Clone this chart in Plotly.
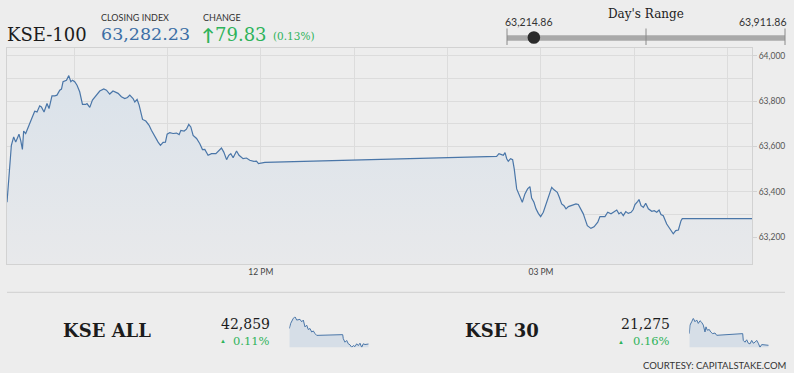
import pandas as pd
import plotly.graph_objects as go

SESSION_DATE = "2023-06-13"

# ---------------- data ----------------
index_name = "KSE-100"
closing_index = 63282.23
change_points = 79.83
change_pct = 0.13
day_low = 63214.86
day_high = 63911.86

kse100_minutes_after_9am = [
    16.9, 19.7, 21.2, 22.5, 24.6, 25.7, 26.8, 27.6, 28.9, 30.4,
    32.6, 34.7, 36.2, 37.9, 39.0, 40.7, 42.6, 43.9, 45.8, 47.6,
    49.0, 50.8, 51.9, 52.9, 55.1, 56.6, 57.9, 59.0, 60.4, 61.9,
    63.6, 65.4, 67.5, 68.3, 70.1, 71.8, 74.4, 76.5, 79.1, 80.8,
    82.9, 85.0, 88.3, 90.4, 92.6, 94.3, 95.8, 97.9, 99.0, 100.5,
    101.8, 104.0, 106.1, 108.2, 109.7, 111.9, 114.0, 115.5, 117.2, 118.7,
    119.8, 121.5, 123.6, 125.8, 127.5, 128.6, 130.7, 132.2, 133.7, 135.0,
    136.5, 138.7, 140.8, 142.5, 144.0, 146.1, 148.3, 151.1, 152.6, 154.7,
    156.2, 158.0, 159.4, 160.7, 162.2, 164.4, 166.0, 168.6, 170.8, 172.9,
    175.5, 177.2, 178.5, 180.5, 182.6,
    331.5, 333.0, 334.7, 335.8, 336.9, 338.0, 339.0, 340.5, 341.8, 342.8,
    344.4, 346.0, 348.0, 349.7, 351.4, 352.9, 354.0, 355.5, 356.8, 358.3,
    359.8, 361.5, 363.7, 365.3, 366.9, 368.4, 370.5, 371.8, 373.3, 374.8,
    376.1, 377.6, 379.7, 382.5, 384.0, 385.5, 387.2, 388.3, 389.8, 392.1,
    394.1, 396.5, 397.9, 401.1, 402.9, 405.0, 406.5, 408.7, 410.1, 411.4,
    412.9, 414.5, 416.1, 417.9, 419.3, 420.4, 422.2, 423.0, 424.3, 425.8,
    427.3, 429.0, 431.2, 432.8, 434.4, 435.9, 437.1, 438.6, 440.8, 442.9,
    445.0, 446.6, 448.3, 450.0, 450.8, 495.6,
]
kse100_values = [
    63354, 63605, 63642, 63619, 63654, 63627, 63587, 63668, 63657, 63686,
    63720, 63755, 63752, 63779, 63774, 63752, 63789, 63767, 63823, 63823,
    63826, 63848, 63853, 63885, 63892, 63912, 63885, 63892, 63885, 63870,
    63841, 63785, 63785, 63789, 63772, 63804, 63826, 63844, 63853, 63848,
    63831, 63844, 63834, 63819, 63811, 63816, 63826, 63811, 63796, 63807,
    63782, 63719, 63712, 63693, 63671, 63642, 63619, 63605, 63618, 63619,
    63654, 63661, 63657, 63659, 63652, 63671, 63668, 63676, 63697, 63686,
    63649, 63635, 63612, 63586, 63587, 63561, 63568, 63568, 63580, 63593,
    63575, 63542, 63561, 63568, 63550, 63580, 63561, 63546, 63549, 63539,
    63534, 63535, 63524, 63528, 63530,
    63556, 63568, 63564, 63561, 63573, 63546, 63535, 63546, 63542, 63502,
    63413, 63388, 63354, 63391, 63413, 63423, 63373, 63354, 63325, 63305,
    63291, 63310, 63354, 63384, 63420, 63409, 63398, 63376, 63347, 63339,
    63325, 63335, 63339, 63347, 63344, 63325, 63303, 63281, 63251, 63239,
    63246, 63266, 63291, 63291, 63310, 63303, 63310, 63320, 63303, 63310,
    63295, 63313, 63305, 63310, 63322, 63344, 63358, 63366, 63339, 63332,
    63350, 63325, 63314, 63317, 63310, 63320, 63300, 63295, 63258, 63236,
    63215, 63229, 63232, 63273, 63282, 63282,
]

y_tick_step = 200
y_grid_step = 100
x_tick_hours = ["12:00", "15:00"]
x_tick_labels = ["12 PM", "03 PM"]

kse_all_name = "KSE ALL"
kse_all_last = 42859
kse_all_pct = 0.11
kse_all_minutes = [16.7, 25.1, 40.8, 51.0, 61.3, 81.2, 91.5, 101.1, 111.4, 121.6,
                   131.3, 141.5, 151.8, 161.4, 171.7, 181.9, 338.7, 342.3, 352.6, 362.8,
                   372.5, 382.7, 393.0, 402.6, 412.9, 423.1, 432.8, 443.0, 453.3, 462.9,
                   473.2, 483.4, 495.5]
kse_all_values = [43092, 43170, 43247, 43271, 43220, 43231, 43194, 43220, 43117, 43143,
                  43077, 43093, 43040, 43056, 43016, 42989, 43000, 42939, 42886, 42912,
                  42862, 42846, 42809, 42835, 42820, 42862, 42835, 42871, 42809, 42862,
                  42851, 42859, 42859]

kse30_name = "KSE 30"
kse30_last = 21275
kse30_pct = 0.16
kse30_minutes = [16.7, 20.9, 31.2, 40.8, 51.1, 61.3, 71.0, 81.2, 91.5, 101.1,
                 111.4, 117.4, 125.2, 137.3, 145.7, 157.8, 171.7, 181.9, 338.7, 342.3,
                 352.6, 362.8, 372.5, 382.7, 393.0, 402.6, 412.9, 423.1, 432.8, 443.0,
                 453.3, 462.9, 473.2, 495.5]
kse30_values = [21387, 21469, 21501, 21534, 21501, 21518, 21485, 21511, 21495, 21469,
                21403, 21452, 21420, 21426, 21403, 21387, 21393, 21371, 21387, 21322,
                21305, 21328, 21295, 21289, 21322, 21295, 21305, 21322, 21295, 21256,
                21282, 21279, 21282, 21275]

courtesy = "COURTESY: CAPITALSTAKE.COM"

# ---------------- helpers ----------------
W, H = 794, 373
base = pd.Timestamp(f"{SESSION_DATE} 09:00")


def to_times(minutes):
    return base + pd.to_timedelta(minutes, unit="min")


def px(x):
    return x / W


def py(y):
    return 1 - y / H


BG = "#ededed"
GRID = "#dcdcdc"
AXLINE = "#d2d2d2"
LINE = "#4a76a8"
GREEN = "#2eb35a"
SERIF = "DejaVu Serif"
SANS = "Lato"

fig = go.Figure()

# main chart
fig.add_trace(go.Scatter(
    x=to_times(kse100_minutes_after_9am), y=kse100_values,
    mode="lines", line=dict(color=LINE, width=1.2),
    fill="tozeroy",
    fillgradient=dict(type="vertical",
                      colorscale=[[0, "#e8e9eb"], [1, "#dae2ea"]],
                      start=63082, stop=max(kse100_values)),
    hoverinfo="skip", showlegend=False,
    xaxis="x", yaxis="y",
))

# sparklines
for vals, mins, ax in ((kse_all_values, kse_all_minutes, "2"), (kse30_values, kse30_minutes, "3")):
    fig.add_trace(go.Scatter(
        x=to_times(mins), y=vals, mode="lines",
        line=dict(color=LINE, width=1), fill="tozeroy", fillcolor="#d6dee7",
        hoverinfo="skip", showlegend=False, xaxis="x" + ax, yaxis="y" + ax,
    ))

main_x_domain = [px(7), px(752)]
main_y_domain = [py(264), py(47.5)]

fig.update_layout(
    width=W, height=H,
    margin=dict(l=0, r=0, t=0, b=0),
    paper_bgcolor=BG, plot_bgcolor=BG,
    xaxis=dict(
        domain=main_x_domain, type="date",
        tickmode="array",
        tickvals=[pd.Timestamp(f"{SESSION_DATE} {h}") for h in x_tick_hours],
        ticktext=x_tick_labels,
        showgrid=True, gridcolor=GRID, gridwidth=1,
        minor=dict(dtick=3600000, tick0=f"{SESSION_DATE} 10:00", showgrid=True,
                   gridcolor=GRID, gridwidth=1),
        showline=True, linecolor=AXLINE, linewidth=1, mirror=True,
        ticks="", tickfont=dict(family=SANS, size=8.5, color="#444"),
        zeroline=False, automargin=False, fixedrange=True,
    ),
    yaxis=dict(
        domain=main_y_domain, side="right",
        range=[63082, 64036],
        tick0=0, dtick=y_tick_step, tickformat=",",
        showgrid=True, gridcolor=GRID, gridwidth=1,
        minor=dict(dtick=y_grid_step, tick0=0, showgrid=True, gridcolor=GRID, gridwidth=1),
        showline=True, linecolor=AXLINE, linewidth=1, mirror=True,
        ticks="outside", ticklen=4, tickcolor=AXLINE,
        tickfont=dict(family=SANS, size=8.5, color="#555"),
        zeroline=False, automargin=False, fixedrange=True,
    ),
    xaxis2=dict(domain=[px(289.3), px(368.7)], visible=False, anchor="y2"),
    yaxis2=dict(domain=[py(347.3), py(316.7)], visible=False, anchor="x2",
                range=[min(kse_all_values), max(kse_all_values)]),
    xaxis3=dict(domain=[px(689.3), px(768.7)], visible=False, anchor="y3"),
    yaxis3=dict(domain=[py(347.3), py(318.3)], visible=False, anchor="x3",
                range=[min(kse30_values), max(kse30_values)]),
)

ann = []


def text(x, y, s, size, color, family=SANS, xanchor="left", bold=False):
    ann.append(dict(
        x=px(x), y=py(y), xref="paper", yref="paper", text=s, showarrow=False,
        xanchor=xanchor, yanchor="middle", borderpad=0, borderwidth=0,
        font=dict(family=family, size=size, color=color, weight="bold" if bold else "normal"),
    ))


# header
text(7, 34.5, index_name, 18, "#1c1c1c", SERIF)
text(101, 17.5, "CLOSING INDEX", 9, "#333", SANS)
text(101, 34.5, f"{closing_index:,.2f}", 17.5, "#3b6ea5", SERIF)
text(203, 17.5, "CHANGE", 9, "#333", SANS)
text(202, 34.5, "\u2191", 17, GREEN, SANS, bold=True)
text(215, 34.5, f"{change_points:.2f}", 18, GREEN, SERIF)
text(273, 36, f"({change_pct:.2f}%)", 10.5, GREEN, SERIF)

# day's range
text(646, 13.5, "Day's Range", 12, "#222", SERIF, xanchor="center")
text(505, 22, f"{day_low:,.2f}", 10.5, "#333", SANS)
text(787, 22, f"{day_high:,.2f}", 10.5, "#333", SANS, xanchor="right")

# bottom panels
text(63, 330.5, kse_all_name, 18, "#1c1c1c", SERIF, bold=True)
text(270, 324, f"{kse_all_last:,}", 14, "#1c1c1c", SERIF, xanchor="right")
text(223, 340.5, "\u25B2", 6, GREEN, SANS, xanchor="center")
text(270, 340.5, f"{kse_all_pct:.2f}%", 11.5, GREEN, SERIF, xanchor="right")

text(465, 330.5, kse30_name, 18, "#1c1c1c", SERIF, bold=True)
text(670, 324, f"{kse30_last:,}", 14, "#1c1c1c", SERIF, xanchor="right")
text(621, 341, "\u25B2", 6, GREEN, SANS, xanchor="center")
text(670, 340.5, f"{kse30_pct:.2f}%", 11.5, GREEN, SERIF, xanchor="right")

text(786, 365, courtesy, 9.5, "#333", SANS, xanchor="right")

fig.update_layout(annotations=ann)

# slider & separators
bar_x0, bar_x1 = 507, 785
frac = (closing_index - day_low) / (day_high - day_low)
knob_x = bar_x0 + frac * (bar_x1 - bar_x0)
shapes = [
    dict(type="rect", xref="paper", yref="paper", x0=px(bar_x0), x1=px(bar_x1),
         y0=py(40.8), y1=py(35.2), fillcolor="#a9a9a9", line=dict(width=0)),
]
for xv in (bar_x0, (bar_x0 + bar_x1) / 2, bar_x1):
    shapes.append(dict(type="line", xref="paper", yref="paper", x0=px(xv), x1=px(xv),
                       y0=py(45), y1=py(28.5), line=dict(color="#8a8a8a", width=1)))
shapes.append(dict(type="circle", xref="paper", yref="paper",
                   x0=px(knob_x - 6.3), x1=px(knob_x + 6.3), y0=py(43.8), y1=py(31.2),
                   fillcolor="#2b2b2b", line=dict(width=0)))
shapes.append(dict(type="line", xref="paper", yref="paper", x0=px(7), x1=px(785),
                   y0=py(292.3), y1=py(292.3), line=dict(color="#cfcfcf", width=1)))
fig.update_layout(shapes=shapes)

fig.write_html(
    "out.html",
    config={"displayModeBar": False, "staticPlot": True},
    post_script="document.body.style.margin='0';document.body.style.padding='0';"
                "document.body.style.overflow='hidden';"
                "document.body.style.background='" + BG + "';",
)
